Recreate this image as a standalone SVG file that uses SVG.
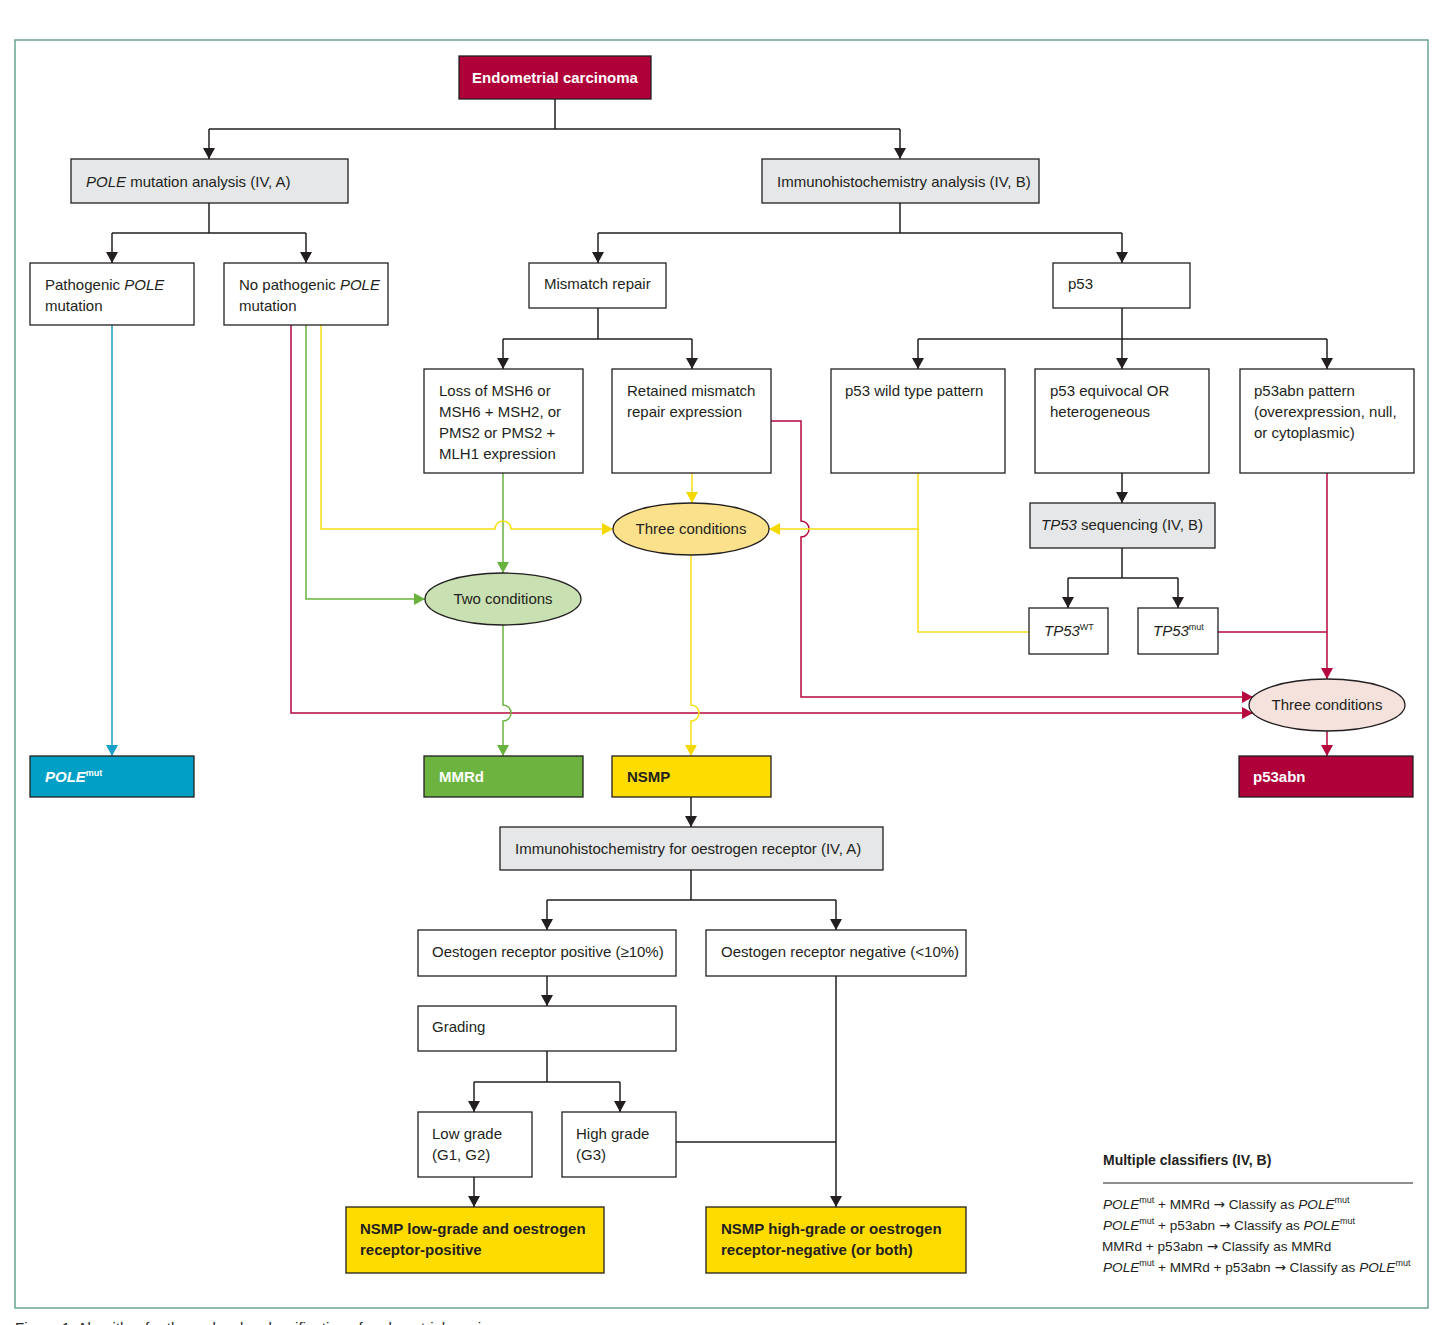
<svg xmlns="http://www.w3.org/2000/svg" width="1443" height="1325" viewBox="0 0 1443 1325">
<style>
text{font-family:"Liberation Sans",Arial,sans-serif;font-size:15px;fill:#231f20}
.b{font-weight:bold}
.w{fill:#fff}
.i{font-style:italic}
.c{text-anchor:middle}
.box{fill:#fff;stroke:#231f20;stroke-width:1.3}
.grey{fill:#e6e7e8;stroke:#231f20;stroke-width:1.3}
.crim{fill:#b0003a;stroke:#231f20;stroke-width:1.3}
.blue{fill:#00a0c6;stroke:#231f20;stroke-width:1.3}
.grn{fill:#6db33f;stroke:#231f20;stroke-width:1.3}
.yel{fill:#ffdc00;stroke:#231f20;stroke-width:1.3}
.ln{fill:none;stroke-width:1.5}
.k{stroke:#231f20}
.ly{stroke:#f5de14}
.lg{stroke:#6ab23e}
.lr{stroke:#b5083e}
.lb{stroke:#1a9fc9}
.sup{font-size:9px}
.leg{font-size:13.6px}
.arr{font-family:"DejaVu Sans",sans-serif}
</style>
<defs>
<marker id="ak" viewBox="0 0 11 12" refX="11" refY="6" markerWidth="11" markerHeight="12" markerUnits="userSpaceOnUse" orient="auto"><path d="M0,0 L11,6 L0,12 z" fill="#231f20"/></marker>
<marker id="ay" viewBox="0 0 11 12" refX="11" refY="6" markerWidth="11" markerHeight="12" markerUnits="userSpaceOnUse" orient="auto"><path d="M0,0 L11,6 L0,12 z" fill="#f5d800"/></marker>
<marker id="ag" viewBox="0 0 11 12" refX="11" refY="6" markerWidth="11" markerHeight="12" markerUnits="userSpaceOnUse" orient="auto"><path d="M0,0 L11,6 L0,12 z" fill="#6ab23e"/></marker>
<marker id="ar" viewBox="0 0 11 12" refX="11" refY="6" markerWidth="11" markerHeight="12" markerUnits="userSpaceOnUse" orient="auto"><path d="M0,0 L11,6 L0,12 z" fill="#b5083e"/></marker>
<marker id="ab" viewBox="0 0 11 12" refX="11" refY="6" markerWidth="11" markerHeight="12" markerUnits="userSpaceOnUse" orient="auto"><path d="M0,0 L11,6 L0,12 z" fill="#1a9fc9"/></marker>
</defs>
<rect x="0" y="0" width="1443" height="1325" fill="#fff"/>
<rect x="15" y="40" width="1413" height="1268" fill="none" stroke="#5d9f8d" stroke-width="1.4"/>

<g id="connectors">
<g class="ln k">
<path d="M555,99 V129 M209,129 H900"/>
<path d="M900,129 V159" marker-end="url(#ak)"/>
<path d="M209,129 V159" marker-end="url(#ak)"/>
<path d="M209,203 V233 M112,233 H306"/>
<path d="M112,233 V263" marker-end="url(#ak)"/>
<path d="M306,233 V263" marker-end="url(#ak)"/>
<path d="M900,203 V233 M598,233 H1122"/>
<path d="M598,233 V263" marker-end="url(#ak)"/>
<path d="M1122,233 V263" marker-end="url(#ak)"/>
<path d="M598,308 V339 M503,339 H692"/>
<path d="M503,339 V369" marker-end="url(#ak)"/>
<path d="M692,339 V369" marker-end="url(#ak)"/>
<path d="M1122,308 V339 M918,339 H1327"/>
<path d="M918,339 V369" marker-end="url(#ak)"/>
<path d="M1122,339 V369" marker-end="url(#ak)"/>
<path d="M1327,339 V369" marker-end="url(#ak)"/>
<path d="M1122,473 V503" marker-end="url(#ak)"/>
<path d="M1122,548 V578 M1068,578 H1178"/>
<path d="M1068,578 V608" marker-end="url(#ak)"/>
<path d="M1178,578 V608" marker-end="url(#ak)"/>
<path d="M691,797 V827" marker-end="url(#ak)"/>
<path d="M691,870 V900 M547,900 H836"/>
<path d="M547,900 V930" marker-end="url(#ak)"/>
<path d="M836,900 V930" marker-end="url(#ak)"/>
<path d="M547,976 V1006" marker-end="url(#ak)"/>
<path d="M547,1051 V1082 M474,1082 H620"/>
<path d="M474,1082 V1112" marker-end="url(#ak)"/>
<path d="M620,1082 V1112" marker-end="url(#ak)"/>
<path d="M474,1177 V1207" marker-end="url(#ak)"/>
<path d="M836,976 V1207" marker-end="url(#ak)"/>
<path d="M676,1142 H836"/>
</g>
<path class="ln lb" d="M112,325 V756" marker-end="url(#ab)"/>
<g class="ln lr">
<path d="M291,325 V713 H1253" marker-end="url(#ar)"/>
<path d="M771,421 H801 V521 a8,8 0 0 1 0,16 V697 H1253" marker-end="url(#ar)"/>
<path d="M1327,473 V679" marker-end="url(#ar)"/>
<path d="M1218,632 H1327"/>
<path d="M1327,731 V756" marker-end="url(#ar)"/>
</g>
<g class="ln lg">
<path d="M306,325 V599 H425" marker-end="url(#ag)"/>
<path d="M503,473 V573" marker-end="url(#ag)"/>
<path d="M503,625 V705 a8,8 0 0 1 0,16 V756" marker-end="url(#ag)"/>
</g>
<g class="ln ly">
<path d="M321,325 V529 H495 a8,8 0 0 1 16,0 H613" marker-end="url(#ay)"/>
<path d="M692,473 V503" marker-end="url(#ay)"/>
<path d="M918,473 V632 H1029"/>
<path d="M918,529 H769" marker-end="url(#ay)"/>
<path d="M691,555 V705 a8,8 0 0 1 0,16 V756" marker-end="url(#ay)"/>
</g>
</g>

<g id="n-endometrial"><rect class="crim" x="459" y="56" width="192" height="43"/><text class="b w c" x="555" y="83">Endometrial carcinoma</text></g>
<g id="n-pole-analysis"><rect class="grey" x="71" y="159" width="277" height="44"/><text x="86" y="187"><tspan class="i">POLE</tspan> mutation analysis (IV, A)</text></g>
<g id="n-ihc"><rect class="grey" x="762" y="159" width="277" height="44"/><text x="777" y="187">Immunohistochemistry analysis (IV, B)</text></g>
<g id="n-path-pole"><rect class="box" x="30" y="263" width="164" height="62"/><text x="45" y="290">Pathogenic <tspan class="i">POLE</tspan></text><text x="45" y="311">mutation</text></g>
<g id="n-no-path-pole"><rect class="box" x="224" y="263" width="164" height="62"/><text x="239" y="290">No pathogenic <tspan class="i">POLE</tspan></text><text x="239" y="311">mutation</text></g>
<g id="n-mmr"><rect class="box" x="529" y="263" width="137" height="45"/><text x="544" y="289">Mismatch repair</text></g>
<g id="n-p53"><rect class="box" x="1053" y="263" width="137" height="45"/><text x="1068" y="289">p53</text></g>
<g id="n-loss"><rect class="box" x="424" y="369" width="159" height="104"/><text x="439" y="396">Loss of MSH6 or</text><text x="439" y="417">MSH6 + MSH2, or</text><text x="439" y="438">PMS2 or PMS2 +</text><text x="439" y="459">MLH1 expression</text></g>
<g id="n-retained"><rect class="box" x="612" y="369" width="159" height="104"/><text x="627" y="396">Retained mismatch</text><text x="627" y="417">repair expression</text></g>
<g id="n-p53wt"><rect class="box" x="831" y="369" width="174" height="104"/><text x="845" y="396">p53 wild type pattern</text></g>
<g id="n-p53eq"><rect class="box" x="1035" y="369" width="174" height="104"/><text x="1050" y="396">p53 equivocal OR</text><text x="1050" y="417">heterogeneous</text></g>
<g id="n-p53abn-pattern"><rect class="box" x="1240" y="369" width="174" height="104"/><text x="1254" y="396">p53abn pattern</text><text x="1254" y="417">(overexpression, null,</text><text x="1254" y="438">or cytoplasmic)</text></g>
<g id="n-three-yellow"><ellipse cx="691" cy="529" rx="78" ry="26" fill="#fbe18c" stroke="#231f20" stroke-width="1.3"/><text class="c" x="691" y="534">Three conditions</text></g>
<g id="n-two-green"><ellipse cx="503" cy="599" rx="78" ry="26" fill="#c9e0b2" stroke="#231f20" stroke-width="1.3"/><text class="c" x="503" y="604">Two conditions</text></g>
<g id="n-tp53seq"><rect class="grey" x="1030" y="503" width="185" height="45"/><text class="c" x="1122" y="530"><tspan class="i">TP53</tspan> sequencing (IV, B)</text></g>
<g id="n-tp53wt"><rect class="box" x="1029" y="608" width="79" height="46"/><text x="1044" y="636"><tspan class="i">TP53</tspan><tspan class="sup" dy="-6">WT</tspan></text></g>
<g id="n-tp53mut"><rect class="box" x="1138" y="608" width="80" height="46"/><text x="1153" y="636"><tspan class="i">TP53</tspan><tspan class="sup" dy="-6">mut</tspan></text></g>
<g id="n-three-red"><ellipse cx="1327" cy="705" rx="78" ry="26" fill="#f5e2dc" stroke="#231f20" stroke-width="1.3"/><text class="c" x="1327" y="710">Three conditions</text></g>
<g id="n-polemut"><rect class="blue" x="30" y="756" width="164" height="41"/><text class="b w" x="45" y="782"><tspan class="i">POLE</tspan><tspan class="sup" dy="-6">mut</tspan></text></g>
<g id="n-mmrd"><rect class="grn" x="424" y="756" width="159" height="41"/><text class="b w" x="439" y="782">MMRd</text></g>
<g id="n-nsmp"><rect class="yel" x="612" y="756" width="159" height="41"/><text class="b" x="627" y="782">NSMP</text></g>
<g id="n-p53abn"><rect class="crim" x="1239" y="756" width="174" height="41"/><text class="b w" x="1253" y="782">p53abn</text></g>
<g id="n-ihc-er"><rect class="grey" x="500" y="827" width="383" height="43"/><text x="515" y="854">Immunohistochemistry for oestrogen receptor (IV, A)</text></g>
<g id="n-er-pos"><rect class="box" x="418" y="930" width="258" height="46"/><text x="432" y="957">Oestogen receptor positive (≥10%)</text></g>
<g id="n-er-neg"><rect class="box" x="706" y="930" width="260" height="46"/><text x="721" y="957">Oestogen receptor negative (&lt;10%)</text></g>
<g id="n-grading"><rect class="box" x="418" y="1006" width="258" height="45"/><text x="432" y="1032">Grading</text></g>
<g id="n-low"><rect class="box" x="418" y="1112" width="114" height="65"/><text x="432" y="1139">Low grade</text><text x="432" y="1160">(G1, G2)</text></g>
<g id="n-high"><rect class="box" x="562" y="1112" width="114" height="65"/><text x="576" y="1139">High grade</text><text x="576" y="1160">(G3)</text></g>
<g id="n-nsmp-low"><rect class="yel" x="346" y="1207" width="258" height="66"/><text class="b" x="360" y="1234">NSMP low-grade and oestrogen</text><text class="b" x="360" y="1255">receptor-positive</text></g>
<g id="n-nsmp-high"><rect class="yel" x="706" y="1207" width="260" height="66"/><text class="b" x="721" y="1234">NSMP high-grade or oestrogen</text><text class="b" x="721" y="1255">receptor-negative (or both)</text></g>

<g id="legend">
<text class="b" x="1103" y="1165" style="font-size:14px">Multiple classifiers (IV, B)</text>
<line x1="1103" y1="1183" x2="1413" y2="1183" stroke="#231f20" stroke-width="1.2"/>
<text class="leg" x="1103" y="1209"><tspan class="i">POLE</tspan><tspan class="sup" dy="-6">mut</tspan><tspan dy="6"> + MMRd </tspan><tspan class="arr">→</tspan><tspan> Classify as </tspan><tspan class="i">POLE</tspan><tspan class="sup" dy="-6">mut</tspan></text>
<text class="leg" x="1103" y="1230"><tspan class="i">POLE</tspan><tspan class="sup" dy="-6">mut</tspan><tspan dy="6"> + p53abn </tspan><tspan class="arr">→</tspan><tspan> Classify as </tspan><tspan class="i">POLE</tspan><tspan class="sup" dy="-6">mut</tspan></text>
<text class="leg" x="1102" y="1251">MMRd + p53abn <tspan class="arr">→</tspan> Classify as MMRd</text>
<text class="leg" x="1103" y="1272"><tspan class="i">POLE</tspan><tspan class="sup" dy="-6">mut</tspan><tspan dy="6"> + MMRd + p53abn </tspan><tspan class="arr">→</tspan><tspan> Classify as </tspan><tspan class="i">POLE</tspan><tspan class="sup" dy="-6">mut</tspan></text>
</g>
<text x="15" y="1333">Figure 1: Algorithm for the molecular classification of endometrial carcinoma</text>
</svg>
